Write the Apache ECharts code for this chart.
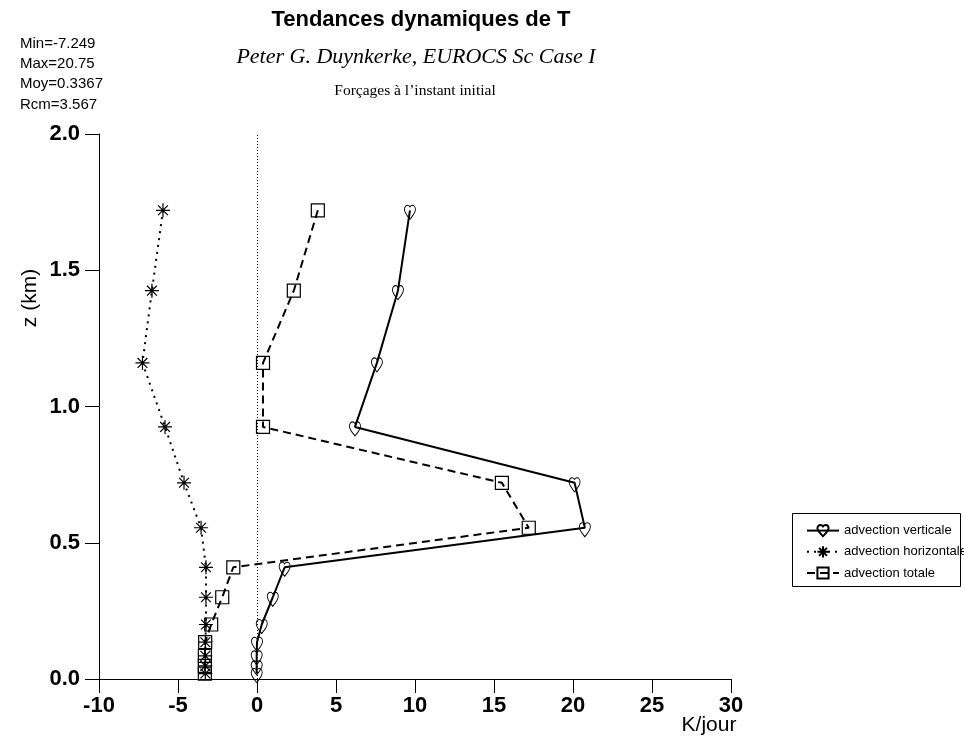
<!DOCTYPE html>
<html>
<head>
<meta charset="utf-8">
<script src="https://cdn.jsdelivr.net/npm/echarts@6/dist/echarts.min.js"></script>
<style>
  html, body { margin: 0; padding: 0; background: #fff; }
  #chart { width: 964px; height: 743px; }
</style>
</head>
<body>
<div id="chart"></div>
<script>
// Heights of the model levels (km)
const levels = [1.72, 1.425, 1.16, 0.925, 0.72, 0.555, 0.41, 0.30, 0.20, 0.135, 0.085, 0.048, 0.02];
// Temperature tendencies (K/jour) at each level
const advVerticale   = [9.68, 8.92, 7.59, 6.2, 20.1, 20.75, 1.75, 1.0, 0.3, 0.0, -0.02, -0.02, -0.02];
const advHorizontale = [-5.95, -6.65, -7.249, -5.82, -4.62, -3.54, -3.23, -3.23, -3.23, -3.27, -3.27, -3.27, -3.27];
const advTotale      = [3.85, 2.33, 0.38, 0.38, 15.5, 17.2, -1.5, -2.2, -2.9, -3.28, -3.3, -3.3, -3.3];
const seriesNames = ['advection verticale', 'advection horizontale', 'advection totale'];
const xTicks = [-10, 30, 5];
const yTicks = [0, 2, 0.5];
const stats = ['Min=-7.249', 'Max=20.75', 'Moy=0.3367', 'Rcm=3.567'];

const pairs = vals => vals.map((v, i) => [v, levels[i]]);

const heart = 'path://M12,21.35L10.55,20.03C5.4,15.36,2,12.28,2,8.5C2,5.42,4.42,3,7.5,3C9.24,3,10.91,3.81,12,5.09C13.09,3.81,14.76,3,16.5,3C19.58,3,22,5.42,22,8.5C22,12.28,18.6,15.36,13.45,20.04Z';
const asterisk = 'path://M0,-10L0,10M-10,0L10,0M-7,-7L7,7M-7,7L7,-7';

const chart = echarts.init(document.getElementById('chart'), null, { renderer: 'canvas' });
const sans = '"Liberation Sans", Arial, sans-serif';
const serif = '"Liberation Serif", "Times New Roman", serif';

chart.setOption({
  animation: false,
  backgroundColor: '#fff',
  grid: { left: 99, right: 233, top: 134, bottom: 64, containLabel: false },
  xAxis: {
    type: 'value', min: xTicks[0], max: xTicks[1], interval: xTicks[2],
    splitLine: { show: false },
    axisLine: { onZero: false, lineStyle: { color: '#000', width: 1 } },
    axisTick: { length: 14, lineStyle: { color: '#000', width: 1 } },
    axisLabel: { margin: 16, color: '#000', fontFamily: sans, fontWeight: 'bold', fontSize: 22 }
  },
  yAxis: {
    type: 'value', min: yTicks[0], max: yTicks[1], interval: yTicks[2],
    splitLine: { show: false },
    axisLine: { show: true, onZero: false, lineStyle: { color: '#000', width: 1 } },
    axisTick: { show: true, length: 14, lineStyle: { color: '#000', width: 1 } },
    axisLabel: { margin: 19, color: '#000', fontFamily: sans, fontWeight: 'bold', fontSize: 22,
                 formatter: v => v.toFixed(1) }
  },
  legend: {
    orient: 'vertical', left: 801, top: 519, itemGap: 8,
    itemWidth: 32, itemHeight: 14,
    textStyle: { color: '#000', fontFamily: sans, fontSize: 13, padding: [0, 0, 0, 0] },
    data: seriesNames
  },
  series: [
    {
      name: seriesNames[0], type: 'line', data: pairs(advVerticale),
      symbol: heart, symbolSize: [11, 14], symbolOffset: [0, 2],
      itemStyle: { color: 'rgba(0,0,0,0)', borderColor: '#000', borderWidth: 1 },
      lineStyle: { color: '#000', width: 2, type: 'solid' },
      markLine: {
        silent: true, symbol: 'none', label: { show: false },
        lineStyle: { color: '#000', width: 1, type: [1, 2] },
        data: [{ xAxis: 0 }]
      },
      z: 3
    },
    {
      name: seriesNames[1], type: 'line', data: pairs(advHorizontale),
      symbol: asterisk, symbolSize: 14,
      itemStyle: { color: 'rgba(0,0,0,0)', borderColor: '#000', borderWidth: 1.2 },
      lineStyle: { color: '#000', width: 2, type: [2, 5] },
      z: 2
    },
    {
      name: seriesNames[2], type: 'line', data: pairs(advTotale),
      symbol: 'rect', symbolSize: 13,
      itemStyle: { color: 'rgba(0,0,0,0)', borderColor: '#000', borderWidth: 1.2 },
      lineStyle: { color: '#000', width: 2, type: [8, 5] },
      z: 2
    }
  ],
  graphic: [
    { type: 'text', x: 421, y: 20, style: { text: 'Tendances dynamiques de T', fill: '#000',
      font: 'bold 22px ' + sans, textAlign: 'center', textVerticalAlign: 'middle' } },
    { type: 'text', x: 416, y: 57, style: { text: 'Peter G. Duynkerke, EUROCS Sc Case I', fill: '#000',
      font: 'italic 22px ' + serif, textAlign: 'center', textVerticalAlign: 'middle' } },
    { type: 'text', x: 415, y: 91, style: { text: 'Forçages à l\u2019instant initial', fill: '#000',
      font: '15.5px ' + serif, textAlign: 'center', textVerticalAlign: 'middle' } },
    ...stats.map((s, i) => ({ type: 'text', x: 20, y: [44, 64, 84, 105][i], style: { text: s, fill: '#000',
      font: '15px ' + sans, textAlign: 'left', textVerticalAlign: 'middle' } })),
    { type: 'text', x: 30, y: 298, rotation: Math.PI / 2, style: { text: 'z (km)', fill: '#000',
      font: '21px ' + sans, textAlign: 'center', textVerticalAlign: 'middle' } },
    { type: 'text', x: 709, y: 725, style: { text: 'K/jour', fill: '#000',
      font: '21px ' + sans, textAlign: 'center', textVerticalAlign: 'middle' } },
    { type: 'rect', shape: { x: 792.5, y: 513.5, width: 168, height: 73 },
      style: { fill: 'none', stroke: '#000', lineWidth: 1 } }
  ]
});
</script>
</body>
</html>
